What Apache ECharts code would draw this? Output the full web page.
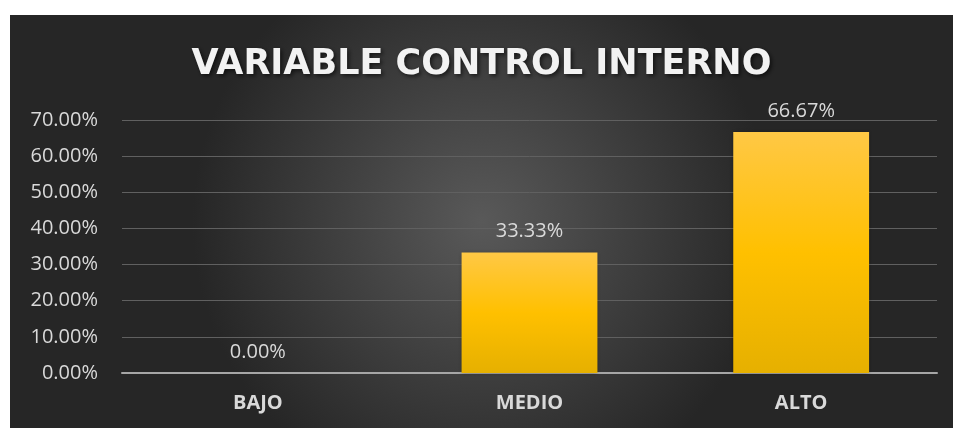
<!DOCTYPE html>
<html><head><meta charset="utf-8">
<script src="https://cdn.jsdelivr.net/npm/echarts@6/dist/echarts.min.js"></script>
<style>html,body{margin:0;padding:0;background:#fff;}#c{position:absolute;left:10px;top:15px;width:943px;height:413px;}</style>
</head><body><div id="c"></div>
<script>
const categories = ['BAJO', 'MEDIO', 'ALTO'];
const values = [0, 0.3333, 0.6667];
const titleText = 'VARIABLE CONTROL INTERNO';

const chart = echarts.init(document.getElementById('c'));
chart.setOption({
  backgroundColor: new echarts.graphic.RadialGradient(0.5, 0.5, 0.7, [
    {offset: 0, color: '#595959'}, {offset: 1, color: '#262626'}
  ]),
  animation: false,
  title: {
    text: titleText, left: 'center', top: 27,
    textStyle: {color: '#f2f2f2', fontFamily: 'DejaVu Sans', fontWeight: 'bold', fontSize: 35,
      textShadowColor: 'rgba(0,0,0,0.6)', textShadowBlur: 4, textShadowOffsetX: 2, textShadowOffsetY: 2}
  },
  grid: {left: 112, right: 16, top: 105, bottom: 55},
  xAxis: {
    type: 'category', data: categories,
    axisLine: {lineStyle: {color: '#a6a6a6', width: 2}},
    axisTick: {show: false},
    axisLabel: {color: '#d9d9d9', fontFamily: 'Open Sans', fontWeight: 'bold', fontSize: 20, margin: 20}
  },
  yAxis: {
    type: 'value', min: 0, max: 0.7, interval: 0.1,
    axisLine: {show: false}, axisTick: {show: false},
    splitLine: {lineStyle: {color: '#606060', width: 1}},
    axisLabel: {color: '#d9d9d9', fontFamily: 'Open Sans', fontSize: 20, margin: 24,
      formatter: v => (v * 100).toFixed(2) + '%'}
  },
  series: [{
    type: 'bar', data: values, barWidth: '50%',
    itemStyle: {color: new echarts.graphic.LinearGradient(0, 0, 0, 1, [
      {offset: 0, color: '#ffc845'}, {offset: 0.5, color: '#ffc000'}, {offset: 1, color: '#e6b000'}
    ]), shadowColor: 'rgba(0,0,0,0.3)', shadowBlur: 4},
    label: {show: true, position: 'top', distance: 11, color: '#d9d9d9', fontFamily: 'Open Sans', fontSize: 20,
      formatter: p => (p.value * 100).toFixed(2) + '%'}
  }]
});
</script></body></html>
